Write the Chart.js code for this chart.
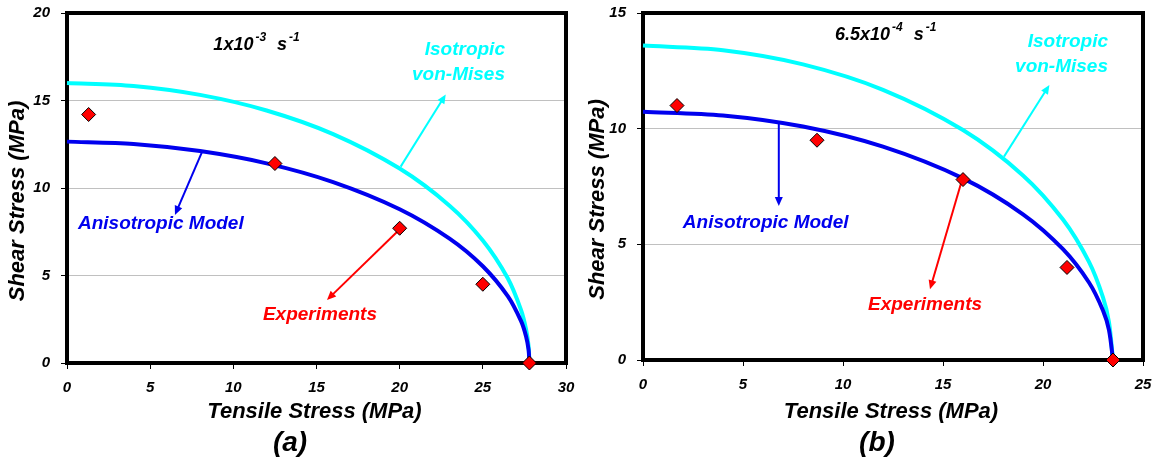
<!DOCTYPE html>
<html>
<head>
<meta charset="utf-8">
<script src="https://cdn.jsdelivr.net/npm/chart.js@4.4.1/dist/chart.umd.min.js"></script>
<style>
  body { margin: 0; background: #fff; }
  .panel { position: absolute; top: 0; height: 464px; }
</style>
</head>
<body>
<div class="panel" style="left:0;width:580px"><canvas id="chartA" width="580" height="464"></canvas></div>
<div class="panel" style="left:580px;width:576px"><canvas id="chartB" width="576" height="464"></canvas></div>
<script>
// ---- data ----
// (a) strain rate 1x10^-3 s^-1
const ticksXA = [0, 5, 10, 15, 20, 25, 30];
const ticksYA = [0, 5, 10, 15, 20];
const expTensileA = [1.3, 12.5, 20.0, 25.0, 27.8];
const expShearA = [14.2, 11.4, 7.7, 4.5, 0];
const modelTensileA = [0, 4, 8, 12, 16, 20, 23, 25, 26.5, 27.3, 27.6, 27.75, 27.8];
const anisoShearA = [12.65, 12.52, 12.11, 11.41, 10.34, 8.79, 7.11, 5.53, 3.82, 2.39, 1.52, 0.76, 0];
const misesShearA = [16.0, 15.83, 15.32, 14.43, 13.08, 11.11, 8.99, 7.0, 4.84, 3.02, 1.92, 0.96, 0];

// (b) strain rate 6.5x10^-4 s^-1
const ticksXB = [0, 5, 10, 15, 20, 25];
const ticksYB = [0, 5, 10, 15];
const expTensileB = [1.7, 8.7, 16.0, 21.2, 23.5];
const expShearB = [11.0, 9.5, 7.8, 4.0, 0];
const modelTensileB = [0, 4, 8, 12, 16, 19, 21, 22.3, 23, 23.3, 23.5];
const anisoShearB = [10.73, 10.57, 10.09, 9.22, 7.85, 6.3, 4.79, 3.35, 2.14, 1.29, 0];
const misesShearB = [13.59, 13.39, 12.78, 11.68, 9.94, 7.98, 6.07, 4.24, 2.71, 1.63, 0];

const FONT = '"Liberation Sans", Arial, sans-serif';
const BLUE = '#0000ee';
const CYAN = '#00ffff';
const RED = '#ff0000';

function toPoints(xs, ys) {
    return xs.map((x, i) => ({ x: x, y: ys[i] }));
}

function drawArrow(ctx, x1, y1, x2, y2, color) {
    const ang = Math.atan2(y2 - y1, x2 - x1);
    const hl = 9, hw = 4;
    ctx.strokeStyle = color;
    ctx.fillStyle = color;
    ctx.lineWidth = 2;
    ctx.beginPath();
    ctx.moveTo(x1, y1);
    ctx.lineTo(x2 - Math.cos(ang) * hl * 0.7, y2 - Math.sin(ang) * hl * 0.7);
    ctx.stroke();
    ctx.beginPath();
    ctx.moveTo(x2, y2);
    ctx.lineTo(x2 - hl * Math.cos(ang) + hw * Math.sin(ang), y2 - hl * Math.sin(ang) - hw * Math.cos(ang));
    ctx.lineTo(x2 - hl * Math.cos(ang) - hw * Math.sin(ang), y2 - hl * Math.sin(ang) + hw * Math.cos(ang));
    ctx.closePath();
    ctx.fill();
}

// frame, arrows and the text notes
const notesPlugin = {
    id: 'notes',
    beforeDatasetsDraw(chart, args, opts) {
        const ctx = chart.ctx, a = chart.chartArea;
        const sx = chart.scales.x, sy = chart.scales.y;
        ctx.save();
        ctx.strokeStyle = '#000';
        ctx.lineWidth = 4;
        ctx.strokeRect(a.left, a.top, a.right - a.left, a.bottom - a.top);
        opts.arrows.forEach(ar => {
            drawArrow(ctx, sx.getPixelForValue(ar.from[0]), sy.getPixelForValue(ar.from[1]),
                sx.getPixelForValue(ar.to[0]), sy.getPixelForValue(ar.to[1]), ar.color);
        });
        ctx.restore();
    },
    afterDraw(chart, args, opts) {
        const ctx = chart.ctx, a = chart.chartArea;
        const sx = chart.scales.x, sy = chart.scales.y;
        ctx.save();
        ctx.textBaseline = 'middle';

        opts.labels.forEach(lb => {
            ctx.font = 'italic bold 19px ' + FONT;
            ctx.fillStyle = lb.color;
            ctx.textAlign = lb.align;
            ctx.fillText(lb.text, sx.getPixelForValue(lb.at[0]), sy.getPixelForValue(lb.at[1]));
        });

        // strain rate with superscripts
        let x = sx.getPixelForValue(opts.rate.at[0]);
        const y = sy.getPixelForValue(opts.rate.at[1]);
        ctx.textAlign = 'left';
        ctx.textBaseline = 'alphabetic';
        ctx.fillStyle = '#000';
        opts.rate.parts.forEach(p => {
            ctx.font = 'italic bold ' + (p.sup ? 12 : 18) + 'px ' + FONT;
            ctx.fillText(p.t, x, p.sup ? y - 9 : y);
            x += ctx.measureText(p.t).width + (p.sup ? 1 : 2);
        });

        // axis titles
        ctx.textAlign = 'center';
        ctx.textBaseline = 'middle';
        ctx.font = 'italic bold 22px ' + FONT;
        ctx.fillText('Tensile Stress (MPa)', (a.left + a.right) / 2 - 2, opts.xTitleY);
        ctx.save();
        ctx.translate(opts.yTitleX, (a.top + a.bottom) / 2 + 13);
        ctx.rotate(-Math.PI / 2);
        ctx.fillText('Shear Stress (MPa)', 0, 0);
        ctx.restore();
        ctx.font = 'italic bold 28px ' + FONT;
        ctx.fillText(opts.tag, opts.tagX, 443);
        ctx.restore();
    }
};

function makeChart(id, cfg) {
    const tickFont = { family: FONT, size: 15, weight: 'bold', style: 'italic' };
    return new Chart(document.getElementById(id), {
        type: 'scatter',
        data: {
            datasets: [
                {
                    label: 'Experiments',
                    data: toPoints(cfg.expX, cfg.expY),
                    pointStyle: 'rectRot',
                    pointRadius: 7,
                    backgroundColor: RED,
                    borderColor: '#000',
                    borderWidth: 1,
                    clip: 10,
                    order: 0
                },
                {
                    label: 'Anisotropic Model',
                    data: toPoints(cfg.modelX, cfg.aniso),
                    showLine: true,
                    borderColor: BLUE,
                    borderWidth: 4,
                    pointRadius: 0,
                    tension: 0.3,
                    clip: 10,
                    order: 1
                },
                {
                    label: 'Isotropic von-Mises',
                    data: toPoints(cfg.modelX, cfg.mises),
                    showLine: true,
                    borderColor: CYAN,
                    borderWidth: 4,
                    pointRadius: 0,
                    tension: 0.3,
                    clip: 10,
                    order: 2
                }
            ]
        },
        options: {
            responsive: false,
            animation: false,
            layout: { padding: { left: 0, right: cfg.padRight, top: 13, bottom: 0 } },
            scales: {
                x: {
                    min: cfg.ticksX[0],
                    max: cfg.ticksX[cfg.ticksX.length - 1],
                    ticks: { stepSize: 5, color: '#000', font: tickFont, padding: 10, maxRotation: 0 },
                    grid: { drawOnChartArea: false, tickLength: 6, tickColor: '#000', tickWidth: 1 },
                    border: { display: false },
                    afterFit: s => {
                        s.height = cfg.xHeight;
                        s.paddingLeft = 0;
                        s.paddingRight = 0;
                    }
                },
                y: {
                    min: cfg.ticksY[0],
                    max: cfg.ticksY[cfg.ticksY.length - 1],
                    ticks: { stepSize: 5, color: '#000', font: tickFont, padding: 11 },
                    grid: { color: '#c0c0c0', lineWidth: 1, tickLength: 6, tickColor: '#000' },
                    border: { display: false },
                    afterFit: s => {
                        s.width = cfg.yWidth;
                        s.paddingTop = 0;
                        s.paddingBottom = 0;
                    }
                }
            },
            plugins: {
                legend: { display: false },
                tooltip: { enabled: false },
                notes: cfg.notes
            }
        },
        plugins: [notesPlugin]
    });
}

makeChart('chartA', {
    expX: expTensileA, expY: expShearA,
    modelX: modelTensileA, aniso: anisoShearA, mises: misesShearA,
    ticksX: ticksXA, ticksY: ticksYA,
    padRight: 14, xHeight: 101, yWidth: 67,
    notes: {
        tag: '(a)', tagX: 290, xTitleY: 412, yTitleX: 18,
        rate: { at: [8.8, 17.89], parts: [{ t: '1x10' }, { t: '-3', sup: true }, { t: '  s' }, { t: '-1', sup: true }] },
        labels: [
            { text: 'Isotropic', color: CYAN, align: 'right', at: [26.33, 17.89] },
            { text: 'von-Mises', color: CYAN, align: 'right', at: [26.33, 16.46] },
            { text: 'Anisotropic Model', color: BLUE, align: 'left', at: [0.66, 7.94] },
            { text: 'Experiments', color: RED, align: 'left', at: [11.78, 2.74] }
        ],
        arrows: [
            { from: [20.06, 11.22], to: [22.77, 15.35], color: CYAN },
            { from: [8.12, 12.06], to: [6.49, 8.46], color: BLUE },
            { from: [19.96, 7.6], to: [15.63, 3.6], color: RED }
        ]
    }
});

makeChart('chartB', {
    expX: expTensileB, expY: expShearB,
    modelX: modelTensileB, aniso: anisoShearB, mises: misesShearB,
    ticksX: ticksXB, ticksY: ticksYB,
    padRight: 13, xHeight: 104, yWidth: 63,
    notes: {
        tag: '(b)', tagX: 297, xTitleY: 412, yTitleX: 18,
        rate: { at: [9.6, 13.83], parts: [{ t: '6.5x10' }, { t: '-4', sup: true }, { t: '  s' }, { t: '-1', sup: true }] },
        labels: [
            { text: 'Isotropic', color: CYAN, align: 'right', at: [23.25, 13.76] },
            { text: 'von-Mises', color: CYAN, align: 'right', at: [23.25, 12.68] },
            { text: 'Anisotropic Model', color: BLUE, align: 'left', at: [1.99, 5.94] },
            { text: 'Experiments', color: RED, align: 'left', at: [11.25, 2.38] }
        ],
        arrows: [
            { from: [18.05, 8.79], to: [20.32, 11.89], color: CYAN },
            { from: [6.79, 10.23], to: [6.79, 6.66], color: BLUE },
            { from: [15.95, 7.78], to: [14.35, 3.06], color: RED }
        ]
    }
});
</script>
</body>
</html>
